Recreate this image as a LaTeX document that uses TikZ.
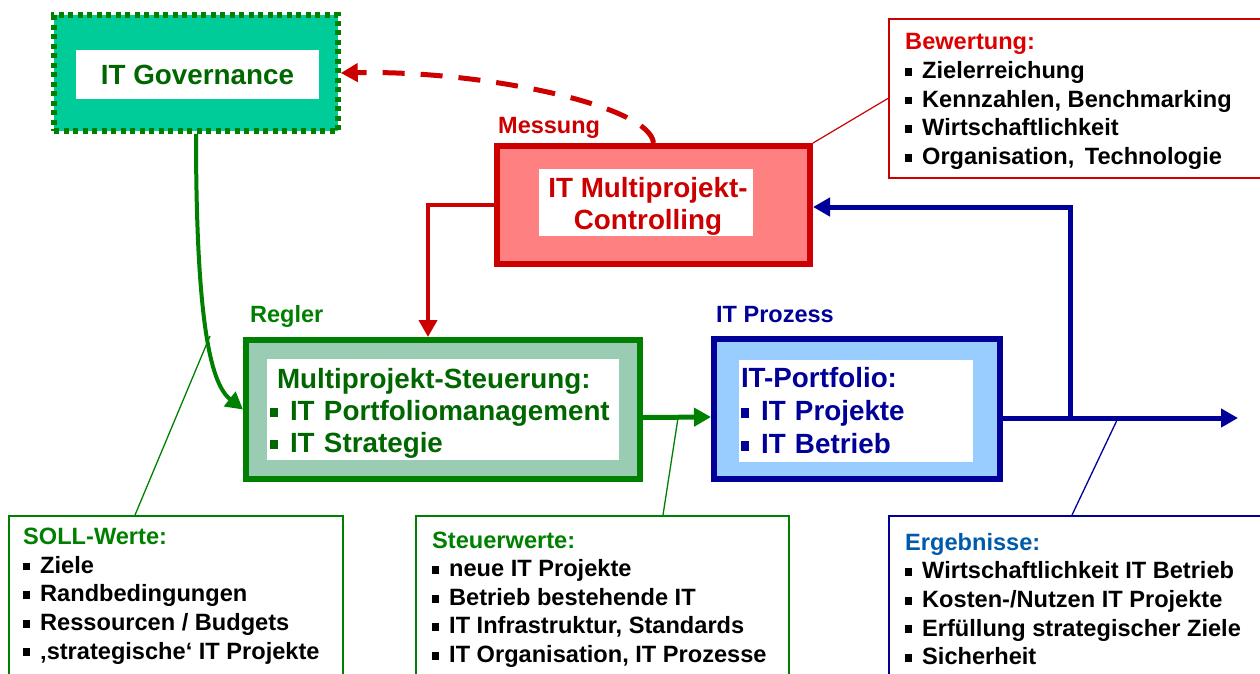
\documentclass[tikz,border=0pt]{standalone}
\usepackage{fontspec}
\setmainfont{Liberation Sans}
\usetikzlibrary{arrows.meta, positioning}

\definecolor{govfill}{RGB}{0,204,153}
\definecolor{darkgreen}{RGB}{0,102,0}
\definecolor{linegreen}{RGB}{0,128,0}
\definecolor{ctrlred}{RGB}{204,0,0}
\definecolor{bewred}{RGB}{221,0,0}
\definecolor{ctrlfill}{RGB}{255,128,128}
\definecolor{regfill}{RGB}{153,204,179}
\definecolor{procfill}{RGB}{153,204,255}
\definecolor{navy}{RGB}{0,0,153}
\definecolor{ergblue}{RGB}{0,90,170}

\newcommand{\sq}{\rule[0.12em]{0.3em}{0.33em}\hspace{0.42em}}

\begin{document}
\begin{tikzpicture}[x=1pt,y=-1pt,
  headarrow/.style={-{Triangle[length=17pt,width=18pt]}},
  outerbox/.style={draw=#1, line width=6pt, inner sep=0pt},
  whitebox/.style={fill=white, inner sep=0pt},
  bigtext/.style={font=\bfseries\fontsize{27.8}{32}\selectfont, inner sep=0pt},
  listtext/.style={font=\bfseries\fontsize{23.6}{28.6}\selectfont, align=left, inner sep=0pt},
  infobox/.style={draw=#1, line width=1.8pt, anchor=north west, inner sep=0pt},
  lbl/.style={font=\bfseries\fontsize{23.5}{28}\selectfont, inner sep=0pt, anchor=base west}
]
\useasboundingbox (0,0) rectangle (1260,673);
\clip (0,0) rectangle (1260,673);

% main blocks
\node[outerbox=linegreen, fill=govfill, line width=5.5pt, dash pattern=on 5pt off 4.5pt,
      minimum width=284pt, minimum height=116pt] (gov) at (196,73) {};
\node[whitebox, bigtext, text=darkgreen, minimum width=243pt, minimum height=49pt]
      (govtxt) at (197.5,74.5) {IT Governance};

\node[outerbox=ctrlred, fill=ctrlfill, minimum width=313pt, minimum height=118pt] (ctrl) at (653.5,205) {};
\node[whitebox, minimum width=214pt, minimum height=67pt] (ctrlwin) at (646,202.5) {};
\node[bigtext, text=ctrlred, align=center] (ctrltxt) at (648,206) {IT Multiprojekt-\\Controlling};

\node[outerbox=linegreen, fill=regfill, minimum width=394pt, minimum height=139pt] (reg) at (443,409.5) {};
\node[whitebox, minimum width=352pt, minimum height=101pt] (regwin) at (443,409.5) {};
\node[bigtext, text=darkgreen, align=left, text width=346pt] (regtxt) at (443,413.5)
      {\hspace*{7pt}Multiprojekt-Steuerung:\\\sq IT Portfoliomanagement\\\sq IT Strategie};

\node[outerbox=navy, fill=procfill, minimum width=286pt, minimum height=140pt] (proc) at (857,409) {};
\node[whitebox, font=\bfseries\fontsize{27.8}{33}\selectfont, text=navy, align=left, text width=230pt, inner xsep=2pt, minimum height=102pt]
      (proctxt) at (856,411) {IT-Portfolio:\\\sq IT Projekte\\\sq IT Betrieb};

% labels
\node[lbl, text=ctrlred] (messlbl) at (498,133) {Messung};
\node[lbl, text=linegreen] (reglbl) at (250,322) {Regler};
\node[lbl, text=navy] (proclbl) at (716,322) {IT Prozess};

% info boxes
\node[infobox=ctrlred, minimum width=380pt, minimum height=159pt] (bew) at (888,18) {};
\node[listtext, anchor=north west, below right=15.5pt and 17pt of bew.north west] (bewtxt)
      {\textcolor{bewred}{Bewertung:}\\\sq Zielerreichung\\\sq Kennzahlen, Benchmarking\\\sq Wirtschaftlichkeit\\\sq Organisation, \,Technologie};

\node[infobox=linegreen, minimum width=334pt, minimum height=200pt] (soll) at (8,515) {};
\node[listtext, anchor=north west, below right=13pt and 15pt of soll.north west] (solltxt)
      {\textcolor{linegreen}{SOLL-Werte:}\\\sq Ziele\\\sq Randbedingungen\\\sq Ressourcen / Budgets\\\sq ‚strategische‘ IT Projekte};

\node[infobox=linegreen, minimum width=373pt, minimum height=200pt] (steuer) at (415,515) {};
\node[listtext, anchor=north west, below right=16.5pt and 17pt of steuer.north west] (steuertxt)
      {\textcolor{linegreen}{Steuerwerte:}\\\sq neue IT Projekte\\\sq Betrieb bestehende IT\\\sq IT Infrastruktur, Standards\\\sq IT Organisation, IT Prozesse};

\node[infobox=navy, minimum width=380pt, minimum height=200pt] (erg) at (888,515) {};
\node[listtext, anchor=north west, below right=18pt and 17pt of erg.north west] (ergtxt)
      {\textcolor{ergblue}{Ergebnisse:}\\\sq Wirtschaftlichkeit IT Betrieb\\\sq Kosten-/Nutzen IT Projekte\\\sq Erfüllung strategischer Ziele\\\sq Sicherheit};

% connectors
\draw[linegreen, line width=4pt, headarrow] (gov.south) .. controls (196,330) and (212,385) .. (reg.west);
\draw[ctrlred, line width=4pt, headarrow] (ctrl.west) -| ([xshift=-15pt]reg.north);
\draw[ctrlred, line width=5pt, dash pattern=on 22pt off 16pt, headarrow]
      (ctrl.north) .. controls (650,105) and (480,70) .. (gov.east);
\draw[linegreen, line width=5pt, headarrow] ([yshift=-8pt]reg.east) -- ([yshift=-8pt]proc.west);

\coordinate (tap) at (1070,418);
\coordinate (outend) at (1238,418);
\draw[navy, line width=5pt, headarrow] ([yshift=-9pt]proc.east) -- (outend);
\draw[navy, line width=5pt, headarrow] (tap) |- ([yshift=-2pt]ctrl.east);

% thin pointer lines
\coordinate (sollpt) at (210,336);
\coordinate (steuerpt) at (678,418);
\coordinate (ergpt) at (1118,418);
\draw[ctrlred, line width=1.2pt] (ctrl.north east) -- (bew.west);
\draw[linegreen, line width=1.3pt] ([xshift=127pt]soll.north west) -- (sollpt);
\draw[linegreen, line width=1.3pt] ([xshift=248pt]steuer.north west) -- (steuerpt);
\draw[navy, line width=1.3pt] ([xshift=184pt]erg.north west) -- (ergpt);
\end{tikzpicture}
\end{document}
